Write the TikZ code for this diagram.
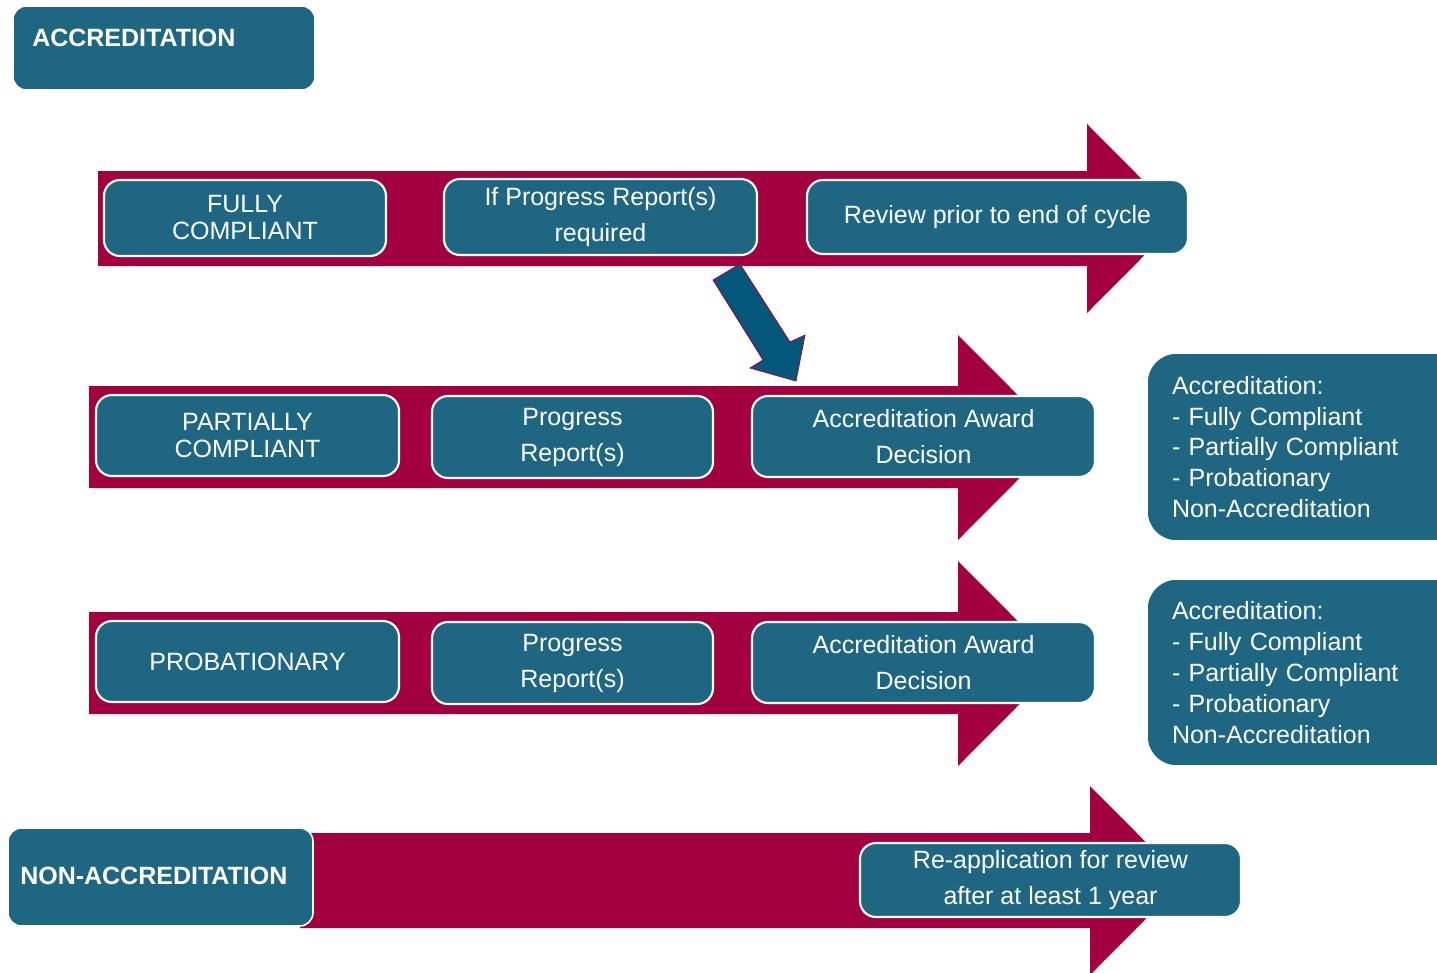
\documentclass[tikz,border=0pt]{standalone}
\usepackage{fontspec}
\setmainfont{Liberation Sans}
\definecolor{boxteal}{HTML}{1E6682}
\definecolor{arrred}{HTML}{A3003F}
\definecolor{diagteal}{HTML}{03577A}
\tikzset{
  bigarrow/.style={fill=arrred},
  stepbox/.style={rectangle, rounded corners=12pt, fill=boxteal, draw=white, line width=1.6pt,
    text=white, align=center, inner sep=0pt, font=\fontsize{18.75}{20.25}\selectfont},
  loosebox/.style={stepbox, font=\fontsize{18.75}{27}\selectfont},
  outbox/.style={rectangle, rounded corners=22pt, fill=boxteal, draw=white, line width=1.2pt,
    text=white, align=left, inner sep=0pt, font=\fontsize{18.75}{23.2}\selectfont},
  headbox/.style={rectangle, rounded corners=10pt, fill=boxteal, draw=white, line width=1.2pt, inner sep=0pt},
  headtext/.style={text=white, anchor=west, inner sep=0pt, font=\bfseries\fontsize{18.75}{22}\selectfont},
}
\begin{document}
\begin{tikzpicture}[x=0.75pt,y=-0.75pt]
\useasboundingbox (0,0) rectangle (1437,972);
\clip (0,0) rectangle (1437,972);

% big red arrows
\fill[bigarrow] (98,171) -- (1087,171) -- (1087,124) -- (1181,218.5) -- (1087,313) -- (1087,266) -- (98,266) -- cycle;
\fill[bigarrow] (89,386) -- (958,386) -- (958,335) -- (1060,437.5) -- (958,540) -- (958,488) -- (89,488) -- cycle;
\fill[bigarrow] (89,612) -- (958,612) -- (958,561) -- (1060,663.5) -- (958,766) -- (958,714) -- (89,714) -- cycle;
\fill[bigarrow] (300,833) -- (1090,833) -- (1090,786) -- (1184,880.5) -- (1090,975) -- (1090,928) -- (300,928) -- cycle;

% diagonal arrow
\filldraw[fill=diagteal, draw=arrred, line width=0.6pt] (713,280) -- (740,264) -- (790,342) -- (805,335) -- (796,381) -- (750,368) -- (763,360) -- cycle;

% heading boxes
\node[headbox, minimum width=302*0.75pt, minimum height=84*0.75pt] (acc) at (164,48) {};
\node[headtext] (acct) at (32,38) {ACCREDITATION};
\node[headbox, minimum width=305*0.75pt, minimum height=98*0.75pt] (non) at (160.5,877) {};
\node[headtext] (nont) at (20,876) {NON-ACCREDITATION};

% row 1
\node[stepbox, minimum width=282*0.75pt, minimum height=76*0.75pt] (fc) at (245,218) {FULLY\\COMPLIANT};
\node[loosebox, minimum width=313*0.75pt, minimum height=76*0.75pt] (ifpr) at (600.5,217) {If Progress Report(s)\\required};
\node[stepbox, minimum width=381*0.75pt, minimum height=74*0.75pt] (rev) at (997.5,217) {Review prior to end of cycle};

% row 2
\node[stepbox, minimum width=303*0.75pt, minimum height=81*0.75pt] (pc) at (247.5,435.5) {PARTIALLY\\COMPLIANT};
\node[loosebox, minimum width=281*0.75pt, minimum height=82*0.75pt] (pr2) at (572.5,437) {Progress\\Report(s)};
\node[loosebox, minimum width=343*0.75pt, minimum height=81*0.75pt] (aad2) at (923.5,436.5) {Accreditation Award\\Decision};
\node[outbox, minimum width=340*0.75pt, minimum height=188*0.75pt, text width=290*0.75pt] (out2) at (1317,447) {Accreditation:\\- Fully Compliant\\- Partially Compliant\\- Probationary\\Non-Accreditation};

% row 3
\node[stepbox, minimum width=303*0.75pt, minimum height=81*0.75pt] (prob) at (247.5,661.5) {PROBATIONARY};
\node[loosebox, minimum width=281*0.75pt, minimum height=82*0.75pt] (pr3) at (572.5,663) {Progress\\Report(s)};
\node[loosebox, minimum width=343*0.75pt, minimum height=81*0.75pt] (aad3) at (923.5,662.5) {Accreditation Award\\Decision};
\node[outbox, minimum width=340*0.75pt, minimum height=187*0.75pt, text width=290*0.75pt] (out3) at (1317,672.5) {Accreditation:\\- Fully Compliant\\- Partially Compliant\\- Probationary\\Non-Accreditation};

% row 4
\node[loosebox, minimum width=381*0.75pt, minimum height=74*0.75pt] (reapp) at (1050.5,880) {Re-application for review\\after at least 1 year};
\end{tikzpicture}
\end{document}
